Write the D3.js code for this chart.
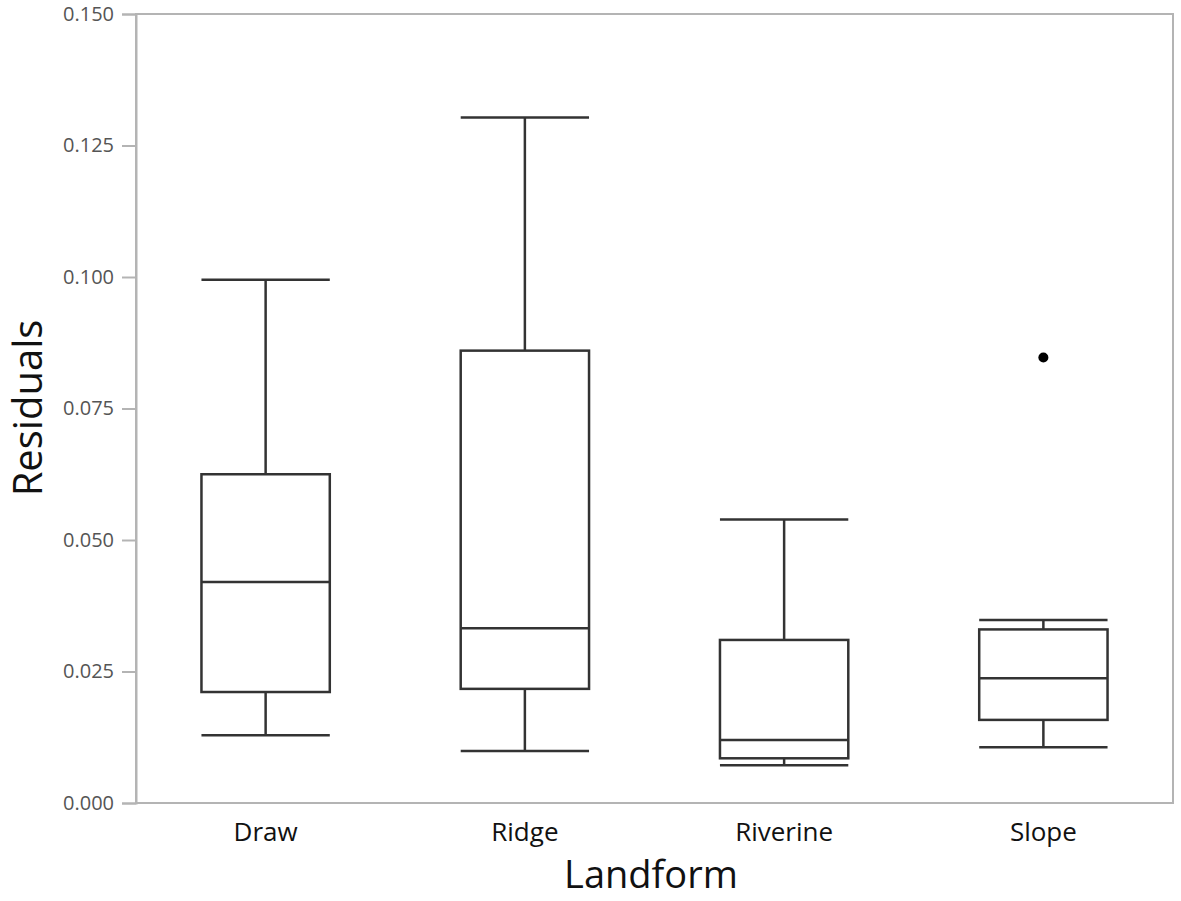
<!DOCTYPE html>
<html>
<head>
<meta charset="utf-8">
<script src="https://cdn.jsdelivr.net/npm/d3@7"></script>
<style>
  body { margin: 0; background: #fff; }
  svg { display: block; }
</style>
</head>
<body>
<svg id="chart" width="1181" height="901"></svg>
<script>
// data
var categories = ['Draw', 'Ridge', 'Riverine', 'Slope'];
var whiskerLow = [0.0129, 0.0099, 0.0072, 0.0106];
var q1 = [0.0211, 0.0217, 0.0085, 0.0158];
var medians = [0.0420, 0.0332, 0.0120, 0.0237];
var q3 = [0.0625, 0.0860, 0.0310, 0.0330];
var whiskerHigh = [0.0995, 0.1303, 0.0539, 0.0348];
var outliers = [{ cat: 'Slope', value: 0.0847 }];
var yTicks = [0, 0.025, 0.05, 0.075, 0.1, 0.125, 0.15];

var margin = { top: 14, right: 8, bottom: 98, left: 136 },
  width = 1181,
  height = 901;

var svg = d3.select('#chart');

var x = d3.scaleBand()
  .domain(categories)
  .range([margin.left, width - margin.right])
  .padding(0);

var y = d3.scaleLinear()
  .domain([0, 0.15])
  .range([height - margin.bottom, margin.top]);

var boxW = x.bandwidth() * 0.495;

var boxes = categories.map(function (c, i) {
  return { cat: c, lo: whiskerLow[i], q1: q1[i], med: medians[i], q3: q3[i], hi: whiskerHigh[i] };
});

// Frame -------------------- //
svg.append('rect')
  .attr('x', margin.left)
  .attr('y', margin.top)
  .attr('width', width - margin.right - margin.left)
  .attr('height', height - margin.bottom - margin.top)
  .attr('fill', 'none')
  .attr('stroke', '#b4b4b4')
  .attr('stroke-width', 2);

// Y axis -------------------- //
var yAxis = svg.append('g')
  .attr('transform', `translate(${margin.left},0)`)
  .call(d3.axisLeft(y).tickValues(yTicks).tickFormat(d3.format('.3f')).tickSize(14).tickPadding(8));

yAxis.select('.domain').attr('stroke', '#b4b4b4').attr('stroke-width', 2);
yAxis.selectAll('.tick line').attr('stroke', '#b4b4b4').attr('stroke-width', 2);
yAxis.selectAll('.tick text')
  .attr('fill', '#555')
  .style('font-family', '"Open Sans", sans-serif')
  .style('font-size', '20px');

// X labels -------------------- //
svg.append('g')
  .selectAll('text')
  .data(categories)
  .enter()
  .append('text')
  .attr('x', function (d) { return x(d) + x.bandwidth() / 2; })
  .attr('y', 841)
  .attr('text-anchor', 'middle')
  .style('font-family', '"Open Sans", sans-serif')
  .style('font-size', '26px')
  .attr('fill', '#111')
  .text(function (d) { return d; });

// Axis titles -------------------- //
svg.append('text')
  .attr('x', 651)
  .attr('y', 888)
  .attr('text-anchor', 'middle')
  .style('font-family', '"Open Sans", sans-serif')
  .style('font-size', '38px')
  .attr('fill', '#111')
  .text('Landform');

svg.append('text')
  .attr('transform', 'translate(42,408) rotate(-90)')
  .attr('text-anchor', 'middle')
  .style('font-family', '"Open Sans", sans-serif')
  .style('font-size', '40px')
  .attr('fill', '#111')
  .text('Residuals');

// Boxes -------------------- //
var g = svg.append('g')
  .attr('stroke', '#333')
  .attr('stroke-width', 2.5)
  .attr('fill', 'none');

var box = g.selectAll('g.box')
  .data(boxes)
  .enter()
  .append('g')
  .attr('class', 'box');

function cx(d) { return x(d.cat) + x.bandwidth() / 2; }

// whisker stems
box.append('line')
  .attr('x1', cx).attr('x2', cx)
  .attr('y1', function (d) { return y(d.q3); })
  .attr('y2', function (d) { return y(d.hi); });
box.append('line')
  .attr('x1', cx).attr('x2', cx)
  .attr('y1', function (d) { return y(d.q1); })
  .attr('y2', function (d) { return y(d.lo); });

// whisker caps
['hi', 'lo'].forEach(function (k) {
  box.append('line')
    .attr('x1', function (d) { return cx(d) - boxW / 2; })
    .attr('x2', function (d) { return cx(d) + boxW / 2; })
    .attr('y1', function (d) { return y(d[k]); })
    .attr('y2', function (d) { return y(d[k]); });
});

box.append('rect')
  .attr('x', function (d) { return cx(d) - boxW / 2; })
  .attr('y', function (d) { return y(d.q3); })
  .attr('width', boxW)
  .attr('height', function (d) { return y(d.q1) - y(d.q3); })
  .attr('fill', '#fff');

box.append('line')
  .attr('x1', function (d) { return cx(d) - boxW / 2; })
  .attr('x2', function (d) { return cx(d) + boxW / 2; })
  .attr('y1', function (d) { return y(d.med); })
  .attr('y2', function (d) { return y(d.med); });

// Outliers -------------------- //
svg.append('g')
  .selectAll('circle')
  .data(outliers)
  .enter()
  .append('circle')
  .attr('cx', function (d) { return x(d.cat) + x.bandwidth() / 2; })
  .attr('cy', function (d) { return y(d.value); })
  .attr('r', 5)
  .attr('fill', '#000');
</script>
</body>
</html>
